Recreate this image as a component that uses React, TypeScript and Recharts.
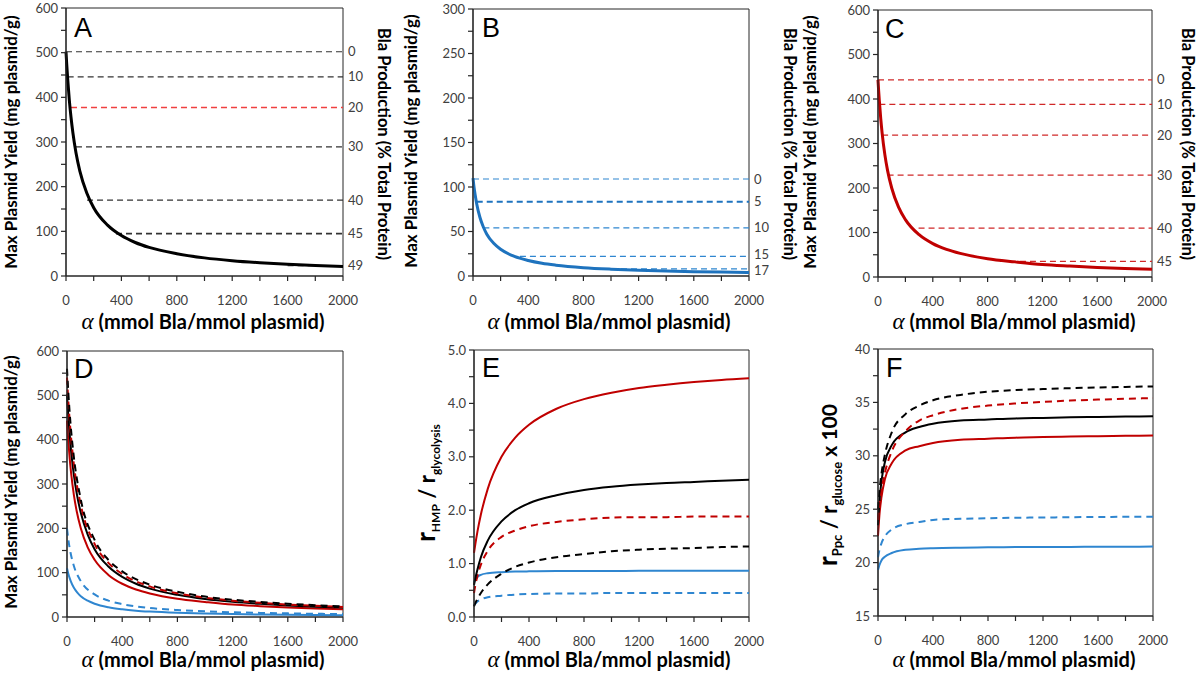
import React from "react";
import { LineChart, Line, XAxis, YAxis, ReferenceLine, ReferenceArea } from "recharts";

const FONT = "Lato, 'Open Sans', sans-serif";
const AXIS = "#262626";
const TICK_TEXT = "#404040";
const BLACK = "#000000";
const RED = "#C00000";
const RED_LIGHT = "#F04040";
const BLUE = "#1E73BE";
const BLUE_LIGHT = "#2F86D0";

const alphaTicks = [0, 200, 400, 600, 800, 1000, 1200, 1400, 1600, 1800, 2000];

// Panel A (black)
const aAlpha = [0, 5, 12, 24, 36, 50, 72, 100, 150, 200, 300, 400, 500, 600, 800, 1000, 1200, 1400, 1600, 1800, 2000];
const aYield = [502, 475, 442, 394, 356, 320, 276, 235, 186, 153, 114, 90.5, 75, 64, 50, 40.6, 34.3, 29.7, 26.2, 23.4, 21.2];
const aLevelLabels = ["0", "10", "20", "30", "40", "45", "49"];
const aLevelValues = [502, 446, 377, 289, 170, 95, 23];
const aLevelStarts = [0, 12, 36, 72, 152, 361, 1600];

// Panel B (blue)
const bAlpha = [0, 5, 10, 20, 27, 50, 75, 100, 150, 200, 300, 400, 500, 600, 800, 1000, 1200, 1400, 1600, 1800, 2000];
const bYield = [110, 103, 97, 87, 81, 66, 55, 47, 36.7, 30, 22, 17.4, 14.3, 12.2, 9.4, 7.7, 6.5, 5.6, 4.9, 4.4, 4.0];
const bLevelLabels = ["0", "5", "10", "15", "17"];
const bLevelValues = [109, 83.5, 54, 22, 8];
const bLevelStarts = [0, 27, 75, 340, 1000];

// Panel C (red)
const cAlpha = [0, 5, 10, 20, 30, 50, 70, 100, 150, 200, 300, 400, 500, 600, 800, 1000, 1200, 1400, 1600, 1800, 2000];
const cYield = [443, 417, 395, 356, 324, 275, 239, 200, 157, 129, 95, 75, 62, 53, 41, 34, 28, 24.5, 21.6, 19.3, 17.4];
const cLevelLabels = ["0", "10", "20", "30", "40", "45"];
const cLevelValues = [443, 388, 319, 229, 110, 35];
const cLevelStarts = [0, 10, 30, 70, 296, 890];

// shared alpha grid for D, E, F
const gridAlpha = [0, 10, 25, 50, 100, 200, 300, 400, 600, 800, 1000, 1200, 1400, 1600, 1800, 2000];

// Panel D dashed curves
const dBlackDashed = [560, 504, 438, 360, 265, 174, 129, 103, 73, 57, 46, 39, 34, 30, 26.7, 24];
const dRedDashed = [540, 485, 421, 344, 253, 165, 122, 97, 69, 53.5, 43.7, 36.9, 31.9, 28.2, 25.2, 22.8];
const dBlueDashed = [200, 174, 146, 115, 81, 51, 37, 29, 20.4, 15.7, 12.7, 10.7, 9.3, 8.2, 7.3, 6.6];

// Panel E
const eRedSolid = [1.2, 1.37, 1.6, 1.92, 2.4, 3.0, 3.36, 3.6, 3.9, 4.08, 4.2, 4.29, 4.35, 4.4, 4.44, 4.47];
const eBlackSolid = [0.6, 0.73, 0.89, 1.12, 1.43, 1.79, 2.0, 2.13, 2.28, 2.38, 2.44, 2.48, 2.51, 2.53, 2.55, 2.57];
const eRedDashed = [0.45, 0.6, 0.77, 0.98, 1.24, 1.5, 1.62, 1.7, 1.78, 1.83, 1.86, 1.87, 1.87, 1.88, 1.88, 1.88];
const eBlackDashed = [0.2, 0.26, 0.34, 0.45, 0.61, 0.81, 0.94, 1.02, 1.12, 1.18, 1.23, 1.26, 1.28, 1.29, 1.31, 1.32];
const eBlueSolid = [0.65, 0.7, 0.75, 0.79, 0.82, 0.84, 0.85, 0.855, 0.86, 0.86, 0.86, 0.865, 0.865, 0.865, 0.865, 0.865];
const eBlueDashed = [0.22, 0.25, 0.29, 0.33, 0.37, 0.4, 0.42, 0.43, 0.44, 0.44, 0.45, 0.45, 0.45, 0.45, 0.45, 0.45];

// Panel F
const fBlackDashed = [25, 26.6, 28.3, 30.1, 32.2, 33.9, 34.7, 35.2, 35.7, 36.0, 36.15, 36.25, 36.33, 36.4, 36.45, 36.5];
const fRedDashed = [24, 25.25, 26.7, 28.4, 30.4, 32.3, 33.3, 33.8, 34.4, 34.7, 34.9, 35.05, 35.17, 35.26, 35.34, 35.4];
const fBlackSolid = [23.5, 25.7, 27.6, 29.4, 31.0, 32.2, 32.7, 33.0, 33.3, 33.4, 33.5, 33.55, 33.6, 33.64, 33.67, 33.7];
const fRedSolid = [22.5, 24.4, 26.1, 27.8, 29.3, 30.5, 30.9, 31.2, 31.5, 31.6, 31.7, 31.75, 31.8, 31.84, 31.87, 31.9];
const fBlueDashed = [20.5, 21.15, 21.8, 22.45, 23.1, 23.6, 23.8, 24.0, 24.1, 24.15, 24.2, 24.22, 24.25, 24.27, 24.29, 24.3];
const fBlueSolid = [19.3, 19.75, 20.2, 20.55, 20.9, 21.2, 21.3, 21.35, 21.4, 21.43, 21.45, 21.46, 21.47, 21.48, 21.49, 21.5];

const yieldTicks = [0, 50, 100, 150, 200, 250, 300, 350, 400, 450, 500, 550, 600];
const bTicks = [0, 25, 50, 75, 100, 125, 150, 175, 200, 225, 250, 275, 300];
const eTicks = [0, 0.5, 1, 1.5, 2, 2.5, 3, 3.5, 4, 4.5, 5];
const fTicks = [15, 17.5, 20, 22.5, 25, 27.5, 30, 32.5, 35, 37.5, 40];

const toPoints = (alpha: number[], values: number[]) => alpha.map((a, i) => ({ a, v: values[i] }));

type Series = { alpha: number[]; values: number[]; color: string; width: number; dashed?: boolean };
type Levels = {
  labels: string[]; values: number[]; starts: number[]; colors: string[]; widths: number[];
  nudge?: Record<string, number>;
};

function Panel(props: {
  x0: number; x1: number; y0: number; y1: number;
  domain: [number, number]; ticks: number[]; labelStep: number; digits: number;
  series: Series[]; levels?: Levels;
}) {
  const { x0, x1, y0, y1, domain, ticks, labelStep, digits, series, levels } = props;
  const padL = 60, padT = 10, padB = 35, padR = 46;
  const width = x1 - x0 + padL + padR;
  const height = y1 - y0 + padT + padB;
  const tickStyle = { fontSize: 13, fill: TICK_TEXT, fontFamily: FONT };

  const rightTick = (p: any) => {
    if (!levels) return <g />;
    const label = levels.labels[levels.values.indexOf(p.payload.value)] ?? "";
    const shift = levels.nudge?.[label] ?? 0;
    return (
      <text x={p.x} y={p.y + shift} dy="0.35em" textAnchor="start" fontSize={13} fill={TICK_TEXT} fontFamily={FONT}>
        {label}
      </text>
    );
  };

  return (
    <div style={{ position: "absolute", left: x0 - padL, top: y0 - padT }}>
      <LineChart width={width} height={height} margin={{ top: padT, left: 0, right: levels ? 0 : padR, bottom: 0 }}>
        <XAxis
          type="number"
          dataKey="a"
          domain={[0, 2000]}
          ticks={alphaTicks}
          interval={0}
          tickFormatter={(v) => (v % 400 === 0 ? String(v) : "")}
          height={padB}
          tickSize={5}
          tickMargin={15}
          tick={tickStyle}
          stroke={AXIS}
          strokeWidth={1.2}
        />
        <YAxis
          yAxisId="l"
          type="number"
          domain={domain}
          allowDataOverflow
          ticks={ticks}
          interval={0}
          width={padL}
          tickFormatter={(v) => (Math.abs(v / labelStep - Math.round(v / labelStep)) < 1e-6 ? v.toFixed(digits) : "")}
          tickSize={5}
          tickMargin={3}
          tick={tickStyle}
          stroke={AXIS}
          strokeWidth={1.2}
        />
        {levels && (
          <YAxis
            yAxisId="r"
            orientation="right"
            type="number"
            domain={domain}
            allowDataOverflow
            ticks={levels.values}
            interval={0}
            width={padR}
            axisLine={false}
            tickLine={false}
            tickSize={3}
            tickMargin={2}
            tick={rightTick}
          />
        )}
        <ReferenceArea yAxisId="l" x1={0} x2={2000} y1={domain[0]} y2={domain[1]} fill="none" stroke={AXIS} strokeWidth={1} />
        {levels &&
          levels.values.map((v, i) => (
            <ReferenceLine
              key={"lv" + i}
              yAxisId="r"
              segment={[{ x: levels.starts[i], y: v }, { x: 2000, y: v }]}
              stroke={levels.colors[i]}
              strokeWidth={levels.widths[i]}
              strokeDasharray="6 4"
            />
          ))}
        {series.map((s, i) => (
          <Line
            key={"s" + i}
            yAxisId="l"
            data={toPoints(s.alpha, s.values)}
            dataKey="v"
            type="monotone"
            stroke={s.color}
            strokeWidth={s.width}
            strokeDasharray={s.dashed ? "7 5" : undefined}
            dot={false}
            activeDot={false}
            isAnimationActive={false}
          />
        ))}
      </LineChart>
    </div>
  );
}

function XTitle({ cx, y }: { cx: number; y: number }) {
  return (
    <text x={cx} y={y} textAnchor="middle" fill="#000" fontFamily={FONT} fontWeight={700} fontSize={20}>
      <tspan fontFamily="'Liberation Serif', serif" fontStyle="italic" fontWeight={400} fontSize={23}>α</tspan>
      <tspan> (mmol Bla/mmol plasmid)</tspan>
    </text>
  );
}

function YieldTitle({ x, cy }: { x: number; cy: number }) {
  return (
    <text transform={`translate(${x},${cy}) rotate(-90)`} textAnchor="middle" fill="#000" fontFamily={FONT} fontWeight={700} fontSize={17}>
      Max Plasmid Yield (mg plasmid/g)
    </text>
  );
}

function BlaTitle({ x, cy }: { x: number; cy: number }) {
  return (
    <text transform={`translate(${x},${cy}) rotate(90)`} textAnchor="middle" fill="#000" fontFamily={FONT} fontWeight={700} fontSize={16.5}>
      Bla Production (% Total Protein)
    </text>
  );
}

function Letter({ x, y, t }: { x: number; y: number; t: string }) {
  return (
    <text x={x} y={y} fill="#000" fontFamily="'Liberation Sans', Arial, sans-serif" fontSize={27}>
      {t}
    </text>
  );
}

export default function App() {
  const levelsA: Levels = {
    labels: aLevelLabels,
    values: aLevelValues,
    starts: aLevelStarts,
    colors: aLevelLabels.map((l) => (l === "20" ? RED_LIGHT : "#333333")),
    widths: aLevelLabels.map((l) => (l === "45" ? 1.8 : l === "20" ? 1.5 : 1.2)),
  };
  const levelsB: Levels = {
    labels: bLevelLabels,
    values: bLevelValues,
    starts: bLevelStarts,
    colors: bLevelLabels.map((l) => (l === "5" ? BLUE : BLUE_LIGHT)),
    widths: bLevelLabels.map((l) => (l === "5" ? 2 : 1.2)),
    nudge: { "15": -2, "17": 2 },
  };
  const levelsC: Levels = {
    labels: cLevelLabels,
    values: cLevelValues,
    starts: cLevelStarts,
    colors: cLevelLabels.map(() => "#D02828"),
    widths: cLevelLabels.map(() => 1.2),
  };

  return (
    <div style={{ position: "absolute", left: 0, top: 0, width: 1200, height: 675, background: "#fff", overflow: "hidden" }}>
      <Panel x0={66} x1={343} y0={8} y1={276} domain={[0, 600]} ticks={yieldTicks} labelStep={100} digits={0}
        levels={levelsA}
        series={[{ alpha: aAlpha, values: aYield, color: BLACK, width: 3 }]} />
      <Panel x0={473} x1={749} y0={9} y1={276} domain={[0, 300]} ticks={bTicks} labelStep={50} digits={0}
        levels={levelsB}
        series={[{ alpha: bAlpha, values: bYield, color: BLUE, width: 3 }]} />
      <Panel x0={878} x1={1152} y0={10} y1={277} domain={[0, 600]} ticks={yieldTicks} labelStep={100} digits={0}
        levels={levelsC}
        series={[{ alpha: cAlpha, values: cYield, color: RED, width: 3 }]} />
      <Panel x0={67} x1={343} y0={351} y1={617} domain={[0, 600]} ticks={yieldTicks} labelStep={100} digits={0}
        series={[
          { alpha: gridAlpha, values: dBlueDashed, color: BLUE_LIGHT, width: 2, dashed: true },
          { alpha: bAlpha, values: bYield, color: BLUE_LIGHT, width: 2 },
          { alpha: cAlpha, values: cYield, color: RED, width: 2 },
          { alpha: aAlpha, values: aYield, color: BLACK, width: 2 },
          { alpha: gridAlpha, values: dRedDashed, color: RED, width: 2, dashed: true },
          { alpha: gridAlpha, values: dBlackDashed, color: BLACK, width: 2, dashed: true },
        ]} />
      <Panel x0={474} x1={749} y0={350} y1={617} domain={[0, 5]} ticks={eTicks} labelStep={1} digits={1}
        series={[
          { alpha: gridAlpha, values: eBlueDashed, color: BLUE_LIGHT, width: 2, dashed: true },
          { alpha: gridAlpha, values: eBlueSolid, color: BLUE_LIGHT, width: 2 },
          { alpha: gridAlpha, values: eBlackDashed, color: BLACK, width: 2, dashed: true },
          { alpha: gridAlpha, values: eRedDashed, color: RED, width: 2, dashed: true },
          { alpha: gridAlpha, values: eBlackSolid, color: BLACK, width: 2 },
          { alpha: gridAlpha, values: eRedSolid, color: RED, width: 2 },
        ]} />
      <Panel x0={878} x1={1153} y0={349} y1={616} domain={[15, 40]} ticks={fTicks} labelStep={5} digits={0}
        series={[
          { alpha: gridAlpha, values: fBlueSolid, color: BLUE_LIGHT, width: 2 },
          { alpha: gridAlpha, values: fBlueDashed, color: BLUE_LIGHT, width: 2, dashed: true },
          { alpha: gridAlpha, values: fRedSolid, color: RED, width: 2 },
          { alpha: gridAlpha, values: fBlackSolid, color: BLACK, width: 2 },
          { alpha: gridAlpha, values: fRedDashed, color: RED, width: 2, dashed: true },
          { alpha: gridAlpha, values: fBlackDashed, color: BLACK, width: 2, dashed: true },
        ]} />

      <svg width={1200} height={675} style={{ position: "absolute", left: 0, top: 0, pointerEvents: "none" }}>
        <Letter x={74} y={37} t="A" />
        <Letter x={482} y={37} t="B" />
        <Letter x={885} y={38} t="C" />
        <Letter x={74} y={378} t="D" />
        <Letter x={482} y={377} t="E" />
        <Letter x={886} y={377} t="F" />

        <XTitle cx={203} y={329} />
        <XTitle cx={609} y={329} />
        <XTitle cx={1014} y={329} />
        <XTitle cx={203} y={667} />
        <XTitle cx={609} y={667} />
        <XTitle cx={1014} y={667} />

        <YieldTitle x={17} cy={142} />
        <YieldTitle x={417} cy={141} />
        <YieldTitle x={816} cy={142} />
        <YieldTitle x={17} cy={482} />

        <BlaTitle x={378} cy={144} />
        <BlaTitle x={784} cy={144} />
        <BlaTitle x={1182} cy={144} />

        <text transform="translate(435,483) rotate(-90)" textAnchor="middle" fill="#000" fontFamily={FONT} fontWeight={700} fontSize={26}>
          <tspan>r</tspan>
          <tspan fontSize={12} dy={5}>HMP</tspan>
          <tspan fontSize={22} dy={-5}> / r</tspan>
          <tspan fontSize={12} dy={5}>glycolysis</tspan>
        </text>
        <text transform="translate(837,485) rotate(-90)" textAnchor="middle" fill="#000" fontFamily={FONT} fontWeight={700} fontSize={26}>
          <tspan>r</tspan>
          <tspan fontSize={13} dy={5}>Ppc</tspan>
          <tspan fontSize={22} dy={-5}> / r</tspan>
          <tspan fontSize={13} dy={5}>glucose</tspan>
          <tspan fontSize={21} dy={-5}> x 100</tspan>
        </text>
      </svg>
    </div>
  );
}
